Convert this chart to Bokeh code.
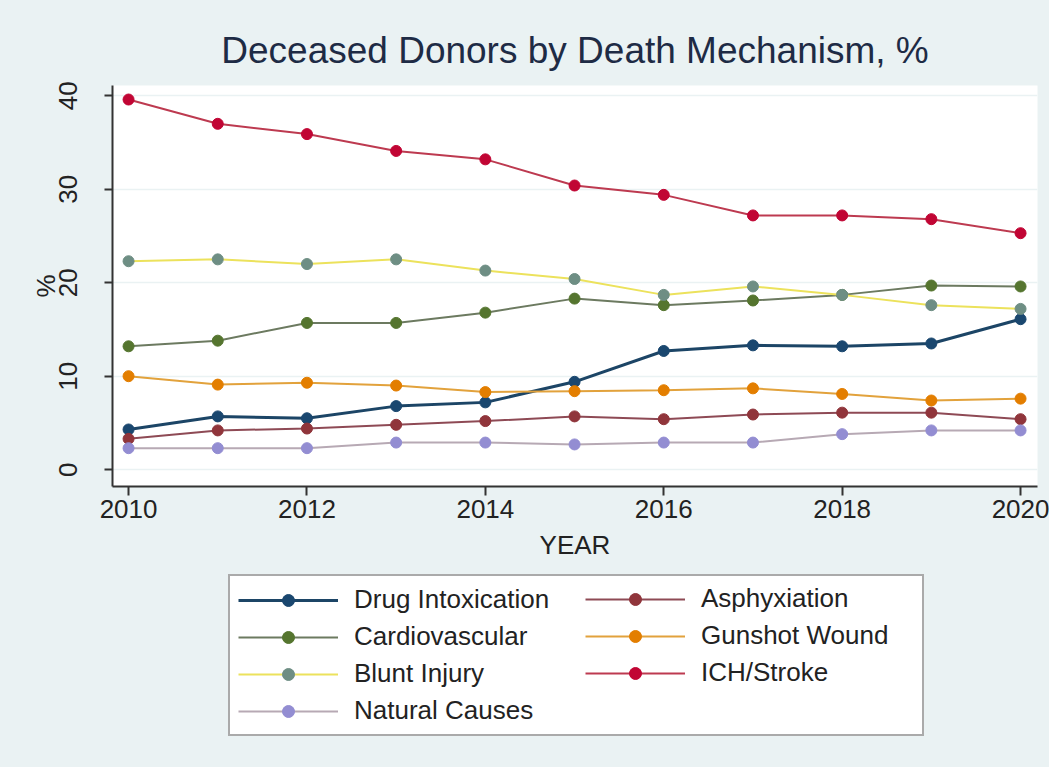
from bokeh.plotting import figure
from bokeh.models import Legend, LegendItem, FixedTicker, Range1d
from bokeh.layouts import column
from bokeh.embed import file_html
from bokeh.resources import INLINE

years = [2010, 2011, 2012, 2013, 2014, 2015, 2016, 2017, 2018, 2019, 2020]
drug = [4.3, 5.7, 5.5, 6.8, 7.2, 9.4, 12.7, 13.3, 13.2, 13.5, 16.1]
asphyx = [3.3, 4.2, 4.4, 4.8, 5.2, 5.7, 5.4, 5.9, 6.1, 6.1, 5.4]
cardio = [13.2, 13.8, 15.7, 15.7, 16.8, 18.3, 17.6, 18.1, 18.7, 19.7, 19.6]
gunshot = [10.0, 9.1, 9.3, 9.0, 8.3, 8.4, 8.5, 8.7, 8.1, 7.4, 7.6]
blunt = [22.3, 22.5, 22.0, 22.5, 21.3, 20.4, 18.7, 19.6, 18.7, 17.6, 17.2]
ich = [39.6, 37.0, 35.9, 34.1, 33.2, 30.4, 29.4, 27.2, 27.2, 26.8, 25.3]
natural = [2.3, 2.3, 2.3, 2.9, 2.9, 2.7, 2.9, 2.9, 3.8, 4.2, 4.2]

series_names = ["Drug Intoxication", "Asphyxiation", "Cardiovascular", "Gunshot Wound",
                "Blunt Injury", "ICH/Stroke", "Natural Causes"]
series_values = [drug, asphyx, cardio, gunshot, blunt, ich, natural]
x_ticks = [2010, 2012, 2014, 2016, 2018, 2020]
y_ticks = [0, 10, 20, 30, 40]

marker_colors = ["#1a476f", "#90353b", "#55752f", "#e37e00", "#6e8e84", "#c10534", "#938dd2"]
line_colors = ["#1c4566", "#8e4a55", "#6c7a60", "#e2a23c", "#ece25c", "#bd3a50", "#b7a9b4"]
line_widths = [3, 2, 2, 2, 2, 2, 2]

BG = "#eaf2f3"
FONT = "Liberation Sans"

# ---------------- main chart ----------------
p = figure(width=1049, height=574, output_backend="svg", toolbar_location=None,
           x_range=Range1d(2009.82, 2020.19), y_range=Range1d(-1.8, 41.1),
           min_border_left=112, min_border_right=12, min_border_top=85, min_border_bottom=88,
           title="Deceased Donors by Death Mechanism, %")
p.background_fill_color = "white"
p.border_fill_color = BG
p.outline_line_color = None

p.title.align = "center"
p.title.text_font = FONT
p.title.text_font_size = "37px"
p.title.text_font_style = "normal"
p.title.text_color = "#1e2b45"
p.title.standoff = 30

p.xgrid.grid_line_color = None
p.ygrid.grid_line_color = BG
p.ygrid.grid_line_width = 1.5
p.ygrid.ticker = FixedTicker(ticks=y_ticks)

for ax in (p.xaxis[0], p.yaxis[0]):
    ax.axis_line_color = "#333333"
    ax.axis_line_width = 2
    ax.major_tick_line_color = "#333333"
    ax.major_tick_line_width = 2
    ax.minor_tick_line_color = None
    ax.major_tick_in = 0
    ax.major_label_text_font = FONT
    ax.major_label_text_font_size = "26px"
    ax.major_label_text_color = "#222222"
    ax.axis_label_text_font = FONT
    ax.axis_label_text_font_size = "26px"
    ax.axis_label_text_font_style = "normal"
    ax.axis_label_text_color = "#222222"

p.xaxis.ticker = FixedTicker(ticks=x_ticks)
p.xaxis.major_tick_out = 9
p.xaxis.major_label_standoff = 4
p.xaxis.axis_label = "YEAR"
p.xaxis.axis_label_standoff = 9

p.yaxis.ticker = FixedTicker(ticks=y_ticks)
p.yaxis.major_tick_out = 8
p.yaxis.major_label_orientation = "vertical"
p.yaxis.major_label_standoff = 27
p.yaxis.axis_label = "%"
p.yaxis.axis_label_standoff = -4

for name, vals, mc, lc, lw in zip(series_names, series_values, marker_colors, line_colors, line_widths):
    p.line(years, vals, line_color=lc, line_width=lw)
    p.scatter(years, vals, size=11, fill_color=mc, line_color=mc)

# ---------------- legend panel (frame aligned with the chart frame) ----------------
q = figure(width=1049, height=193, output_backend="svg", toolbar_location=None,
           x_range=Range1d(0, 1), y_range=Range1d(0, 1),
           x_axis_location=None, y_axis_location=None,
           min_border_left=112, min_border_right=12, min_border_top=0, min_border_bottom=0)
q.background_fill_color = BG
q.border_fill_color = BG
q.outline_line_color = None
q.xgrid.visible = False
q.ygrid.visible = False

items = {}
for name, vals, mc, lc, lw in zip(series_names, series_values, marker_colors, line_colors, line_widths):
    # same data, but outside this panel's ranges: only the legend glyphs are visible
    lr = q.line(years, vals, line_color=lc, line_width=lw)
    sr = q.scatter(years, vals, size=11, fill_color=mc, line_color=mc)
    items[name] = LegendItem(label=name, renderers=[lr, sr])

col1 = ["Drug Intoxication", "Cardiovascular", "Blunt Injury", "Natural Causes"]
col2 = ["Asphyxiation", "Gunshot Wound", "ICH/Stroke"]


def make_legend(names, loc, boxed, label_width):
    lg = Legend(items=[items[n] for n in names], orientation="vertical", location=loc)
    lg.label_text_font = FONT
    lg.label_text_font_size = "26px"
    lg.label_text_color = "#222222"
    lg.glyph_width = 100
    lg.glyph_height = 30
    lg.label_height = 30
    lg.label_width = label_width
    lg.label_standoff = 16
    lg.spacing = 6
    lg.padding = 8
    lg.margin = 0
    if boxed:
        lg.border_line_color = "#555555"
        lg.border_line_width = 2
        lg.background_fill_color = "white"
        lg.background_fill_alpha = 1
    else:
        lg.border_line_color = None
        lg.background_fill_alpha = 0
    return lg


q.add_layout(make_legend(col1, (116, 31), True, 560))
q.add_layout(make_legend(col2, (473, 79), False, 20))

layout = column(p, q, spacing=0)
html = file_html(layout, INLINE)
html = html.replace("</head>", "<style>html, body { background-color: #eaf2f3; margin: 0; }</style>\n</head>", 1)
open("out.html", "w").write(html)
